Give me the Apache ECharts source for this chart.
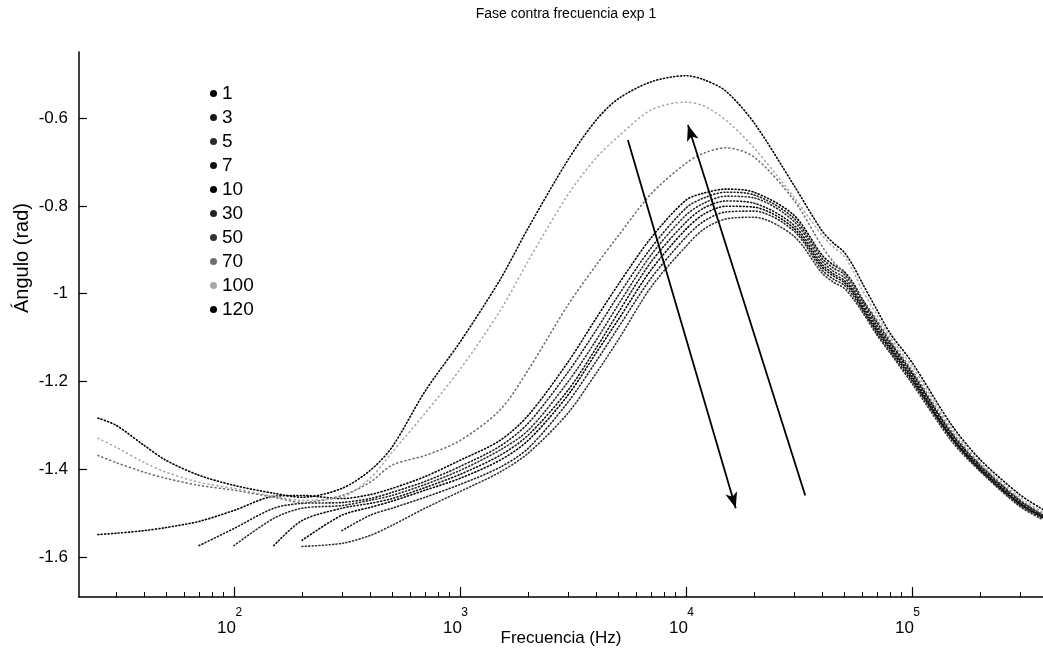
<!DOCTYPE html>
<html><head><meta charset="utf-8">
<script src="https://cdn.jsdelivr.net/npm/echarts@6/dist/echarts.min.js"></script>
<style>html,body{margin:0;padding:0;background:#fff}#c{width:1043px;height:651px}</style>
</head><body><div id="c"></div>
<script>
// ---- data: [frequency (Hz), phase angle (rad)] ----
const seriesNames = ['1','3','5','7','10','30','50','70','100','120'];

const s1 = [[25,-1.548],[30,-1.545],[40,-1.539],[50,-1.532],[70,-1.518],[100,-1.493],[150,-1.461],[200,-1.459],[300,-1.466],[400,-1.457],[500,-1.443],[700,-1.416],[1000,-1.379],[1500,-1.334],[2000,-1.277],[3000,-1.156],[4000,-1.056],[5000,-0.980],[7000,-0.873],[10000,-0.787],[12000,-0.771],[15000,-0.762],[20000,-0.769],[30000,-0.821],[40000,-0.912],[45000,-0.935],[50000,-0.949],[55000,-0.976],[60000,-1.010],[70000,-1.065],[80000,-1.110],[100000,-1.179],[150000,-1.318],[200000,-1.390],[300000,-1.470],[380000,-1.504]];
const s3 = [[70,-1.573],[100,-1.534],[150,-1.488],[200,-1.477],[300,-1.475],[400,-1.466],[500,-1.452],[700,-1.427],[1000,-1.393],[1500,-1.347],[2000,-1.295],[3000,-1.179],[4000,-1.083],[5000,-1.005],[7000,-0.896],[10000,-0.805],[12000,-0.782],[15000,-0.769],[20000,-0.775],[30000,-0.828],[40000,-0.919],[45000,-0.942],[50000,-0.955],[55000,-0.983],[60000,-1.015],[70000,-1.072],[80000,-1.115],[100000,-1.183],[150000,-1.320],[200000,-1.393],[300000,-1.472],[380000,-1.504]];
const s5 = [[100,-1.573],[150,-1.511],[200,-1.488],[300,-1.482],[400,-1.470],[500,-1.459],[700,-1.434],[1000,-1.402],[1500,-1.356],[2000,-1.311],[3000,-1.201],[4000,-1.106],[5000,-1.026],[7000,-0.912],[10000,-0.821],[12000,-0.794],[15000,-0.778],[20000,-0.782],[30000,-0.835],[40000,-0.926],[45000,-0.949],[50000,-0.962],[55000,-0.990],[60000,-1.021],[70000,-1.076],[80000,-1.119],[100000,-1.188],[150000,-1.324],[200000,-1.395],[300000,-1.475],[380000,-1.507]];
const s7 = [[150,-1.573],[200,-1.516],[300,-1.488],[400,-1.477],[500,-1.466],[700,-1.441],[1000,-1.411],[1500,-1.368],[2000,-1.322],[3000,-1.220],[4000,-1.124],[5000,-1.044],[7000,-0.928],[10000,-0.837],[12000,-0.805],[15000,-0.789],[20000,-0.794],[30000,-0.844],[40000,-0.933],[45000,-0.955],[50000,-0.969],[55000,-0.994],[60000,-1.026],[70000,-1.081],[80000,-1.122],[100000,-1.190],[150000,-1.327],[200000,-1.397],[300000,-1.477],[380000,-1.507]];
const s10 = [[200,-1.561],[300,-1.504],[400,-1.486],[500,-1.472],[700,-1.447],[1000,-1.420],[1500,-1.379],[2000,-1.334],[3000,-1.231],[4000,-1.135],[5000,-1.060],[7000,-0.946],[10000,-0.853],[12000,-0.819],[15000,-0.801],[20000,-0.803],[30000,-0.851],[40000,-0.939],[45000,-0.960],[50000,-0.974],[55000,-0.999],[60000,-1.031],[70000,-1.085],[80000,-1.126],[100000,-1.195],[150000,-1.329],[200000,-1.400],[300000,-1.479],[380000,-1.509]];
const s30 = [[300,-1.539],[400,-1.504],[500,-1.488],[700,-1.463],[1000,-1.434],[1500,-1.395],[2000,-1.352],[3000,-1.247],[4000,-1.154],[5000,-1.078],[7000,-0.965],[10000,-0.871],[12000,-0.835],[15000,-0.814],[20000,-0.812],[30000,-0.857],[40000,-0.946],[45000,-0.967],[50000,-0.980],[55000,-1.005],[60000,-1.035],[70000,-1.090],[80000,-1.131],[100000,-1.199],[150000,-1.331],[200000,-1.402],[300000,-1.482],[380000,-1.511]];
const s50 = [[200,-1.575],[300,-1.568],[400,-1.550],[500,-1.527],[700,-1.488],[1000,-1.450],[1500,-1.406],[2000,-1.363],[3000,-1.272],[4000,-1.181],[5000,-1.106],[7000,-0.985],[10000,-0.892],[12000,-0.853],[15000,-0.830],[20000,-0.826],[30000,-0.869],[40000,-0.953],[45000,-0.974],[50000,-0.987],[55000,-1.012],[60000,-1.040],[70000,-1.094],[80000,-1.135],[100000,-1.204],[150000,-1.336],[200000,-1.404],[300000,-1.484],[380000,-1.514]];
const s70 = [[25,-1.368],[30,-1.384],[40,-1.406],[50,-1.420],[70,-1.436],[100,-1.447],[150,-1.463],[200,-1.475],[300,-1.459],[400,-1.429],[500,-1.390],[700,-1.368],[1000,-1.334],[1500,-1.265],[2000,-1.174],[3000,-1.026],[4000,-0.935],[5000,-0.869],[7000,-0.773],[10000,-0.703],[12000,-0.680],[15000,-0.668],[20000,-0.689],[30000,-0.787],[40000,-0.892],[45000,-0.928],[50000,-0.951],[55000,-0.980],[60000,-1.010],[70000,-1.060],[80000,-1.106],[100000,-1.174],[150000,-1.313],[200000,-1.388],[300000,-1.468],[380000,-1.502]];
const s100 = [[25,-1.329],[30,-1.349],[40,-1.384],[50,-1.406],[70,-1.429],[100,-1.443],[150,-1.461],[200,-1.470],[300,-1.463],[400,-1.420],[500,-1.361],[700,-1.272],[1000,-1.172],[1500,-1.040],[2000,-0.926],[3000,-0.775],[4000,-0.691],[5000,-0.643],[7000,-0.582],[10000,-0.564],[12000,-0.573],[15000,-0.605],[20000,-0.668],[30000,-0.780],[40000,-0.867],[45000,-0.894],[50000,-0.914],[55000,-0.949],[60000,-0.990],[70000,-1.049],[80000,-1.099],[100000,-1.165],[150000,-1.306],[200000,-1.384],[300000,-1.463],[380000,-1.498]];
const s120 = [[25,-1.283],[30,-1.299],[40,-1.345],[50,-1.379],[70,-1.413],[100,-1.436],[150,-1.454],[200,-1.463],[300,-1.443],[400,-1.402],[500,-1.349],[700,-1.222],[1000,-1.110],[1500,-0.969],[2000,-0.851],[3000,-0.696],[4000,-0.605],[5000,-0.557],[7000,-0.518],[10000,-0.504],[12000,-0.513],[15000,-0.539],[20000,-0.611],[30000,-0.753],[40000,-0.857],[45000,-0.885],[50000,-0.905],[55000,-0.937],[60000,-0.974],[70000,-1.037],[80000,-1.090],[100000,-1.156],[150000,-1.299],[200000,-1.377],[300000,-1.457],[380000,-1.491]];

const yTicks = [-1.6, -1.4, -1.2, -1, -0.8, -0.6];
const xDecades = [100, 1000, 10000, 100000];
const xMinorTicks = [30,40,50,60,70,80,90,200,300,400,500,600,700,800,900,2000,3000,4000,5000,6000,7000,8000,9000,20000,30000,40000,50000,60000,70000,80000,90000,200000,300000];
const arrowDown = [[5530, -0.650], [16600, -1.488]];
const arrowUp = [[33700, -1.459], [10200, -0.616]];
const xMin = 20.6, xMax = 380000, yMin = -1.69, yMax = -0.45;

// ---- chart ----
const lg = v => Math.log10(v);
const dataMap = {'1':s1,'3':s3,'5':s5,'7':s7,'10':s10,'30':s30,'50':s50,'70':s70,'100':s100,'120':s120};
const colorMap = {'1':'#000','3':'#1a1a1a','5':'#2a2a2a','7':'#111','10':'#000','30':'#222','50':'#333','70':'#6e6e6e','100':'#a8a8a8','120':'#000'};
const dashMap = {'70':[1,3.2],'100':[1,3.6]};
const FONT = '"Liberation Sans", Arial, sans-serif';

const chart = echarts.init(document.getElementById('c'), null, {renderer:'canvas'});
const series = seriesNames.map(n => ({
  name: n, type: 'line', data: dataMap[n].map(p => [lg(p[0]), p[1]]),
  showSymbol: false, symbol: 'circle', smooth: 0.3, silent: true,
  itemStyle: {color: colorMap[n]},
  lineStyle: {color: colorMap[n], width: 1.6, type: dashMap[n] || [1, 2.4], cap: 'round'}
}));
series[series.length - 1].markLine = {
  silent: true, symbol: ['none', 'arrow'], symbolSize: [9, 16], animation: false,
  label: {show: false},
  lineStyle: {color: '#000', width: 1.8, type: 'solid'},
  data: [
    [{coord: [lg(arrowDown[0][0]), arrowDown[0][1]]}, {coord: [lg(arrowDown[1][0]), arrowDown[1][1]]}],
    [{coord: [lg(arrowUp[0][0]), arrowUp[0][1]]}, {coord: [lg(arrowUp[1][0]), arrowUp[1][1]]}]
  ]
};

chart.setOption({
  backgroundColor: '#fff',
  animation: false,
  title: {text: 'Fase contra frecuencia exp 1', left: 561, top: 2, textAlign: 'center',
    textStyle: {fontFamily: FONT, fontSize: 14, fontWeight: 'normal', color: '#000'}},
  legend: {data: seriesNames, orient: 'vertical', left: 205, top: 79, itemGap: 5,
    icon: 'circle', itemWidth: 7, itemHeight: 7, selectedMode: false,
    textStyle: {fontFamily: FONT, fontSize: 19, color: '#000', padding: [0,0,0,0]}},
  grid: {left: 79, right: 0, top: 52, bottom: 54, containLabel: false, outerBoundsMode: 'none'},
  xAxis: [{
    type: 'value', min: lg(xMin), max: lg(xMax),
    axisLine: {onZero: false, lineStyle: {color: '#000', width: 1.5}},
    axisTick: {inside: true, length: 5, customValues: xMinorTicks.map(lg), lineStyle: {color: '#000', width: 1}},
    axisLabel: {customValues: xDecades.map(lg), margin: 9,
      formatter: v => '{s|' + Math.round(v) + '}\n{b|10}',
      rich: {b: {fontFamily: FONT, fontSize: 17, lineHeight: 17, width: 26, align: 'left', padding: [0, 8, 0, 0], color: '#000'},
             s: {fontFamily: FONT, fontSize: 12, lineHeight: 14, width: 25, align: 'right', padding: [0, 9, 0, 0], color: '#000'}}},
    splitLine: {show: false},
    name: 'Frecuencia (Hz)', nameLocation: 'middle', nameGap: 33, nameMoveOverlap: false,
    nameTextStyle: {fontFamily: FONT, fontSize: 17, color: '#000'}
  }, {
    type: 'value', min: lg(xMin), max: lg(xMax), position: 'bottom',
    axisLine: {show: false},
    axisTick: {inside: true, length: 10, customValues: xDecades.map(lg), lineStyle: {color: '#000', width: 1.2}},
    axisLabel: {show: false}, splitLine: {show: false}
  }],
  yAxis: {
    type: 'value', min: yMin, max: yMax,
    axisLine: {show: true, onZero: false, lineStyle: {color: '#000', width: 1.5}},
    axisTick: {show: true, inside: true, length: 8, customValues: yTicks, lineStyle: {color: '#000', width: 1.2}},
    axisLabel: {customValues: yTicks, formatter: v => String(v), margin: 11,
      fontFamily: FONT, fontSize: 17, color: '#000'},
    splitLine: {show: false}
  },
  graphic: [{type: 'text', x: 22, y: 258, rotation: Math.PI / 2,
    style: {text: 'Ángulo (rad)', font: '20px ' + FONT, fill: '#000', align: 'center', verticalAlign: 'middle'}}],
  series: series
});
</script></body></html>
